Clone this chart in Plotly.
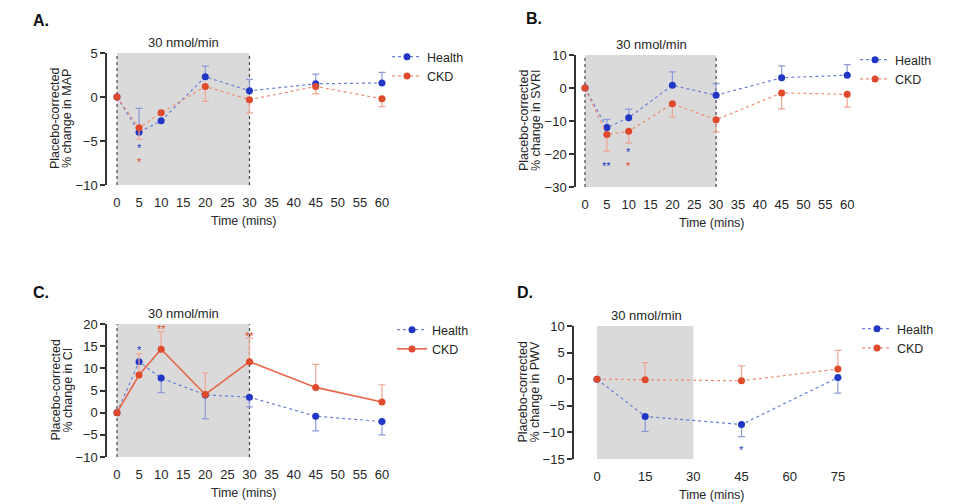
import plotly.graph_objects as go

# ---------------- data ----------------
time_abc = [0, 5, 10, 20, 30, 45, 60]
time_d = [0, 15, 45, 75]

map_health = [0, -4.0, -2.7, 2.3, 0.7, 1.5, 1.6]
map_health_err = [0, 2.7, 0, 1.2, 1.3, 1.1, 1.2]
map_ckd = [0, -3.5, -1.8, 1.2, -0.3, 1.2, -0.2]
map_ckd_err = [0, 1.3, 0, 1.7, 1.5, 0.85, 0.9]

svri_health = [0, -12.0, -9.0, 0.8, -2.2, 3.1, 3.9]
svri_health_err = [0, 2.5, 2.6, 4.1, 3.5, 3.6, 3.2]
svri_ckd = [0, -14.1, -13.1, -4.8, -9.6, -1.5, -1.9]
svri_ckd_err = [0, 5.0, 3.6, 4.0, 3.8, 4.8, 3.9]

ci_health = [0, 11.5, 7.8, 4.0, 3.5, -0.8, -2.0]
ci_health_err = [0, 0, 3.3, 5.4, 2.2, 3.3, 3.0]
ci_ckd = [0, 8.5, 14.3, 4.1, 11.5, 5.7, 2.4]
ci_ckd_err = [0, 4.8, 4.0, 4.9, 5.3, 5.2, 3.9]

pwv_health = [0, -7.0, -8.5, 0.3]
pwv_health_err = [0, 2.8, 2.3, 2.9]
pwv_ckd = [0, -0.1, -0.3, 1.9]
pwv_ckd_err = [0, 3.2, 2.8, 3.5]

ticks_abc = [0, 5, 10, 15, 20, 25, 30, 35, 40, 45, 50, 55, 60]
ticks_d = [0, 15, 30, 45, 60, 75]
yticks_a = [-10, -5, 0, 5]
yticks_b = [-30, -20, -10, 0, 10]
yticks_c = [-10, -5, 0, 5, 10, 15, 20]
yticks_d = [-15, -10, -5, 0, 5, 10]

# asterisks: (x, y, text, group)
stars_a = [(5, -5.5, "*", "Health"), (5, -7.0, "*", "CKD")]
stars_b = [(5, -22.6, "**", "Health"), (10, -18.6, "*", "Health"), (10, -22.6, "*", "CKD")]
stars_c = [(5, 14.9, "*", "Health"), (10, 19.5, "**", "CKD"), (30, 17.9, "**", "CKD")]
stars_d = [(45, -12.8, "*", "Health")]

W, H = 960, 504
OFF = 8  # page offset of the plot div
FONT = "Liberation Sans, Arial, sans-serif"
TXT = "#262626"
BLUE = "#2136c4"
BLUE_L = "#6b7fd6"
BLUE_E = "#8d9ad6"
RED = "#e04a2c"
RED_L = "#ee8c74"
RED_E = "#efa593"

def px(x):
    return (x - OFF) / W

def py(y):
    return 1 - (y - OFF) / H

panels = [
    dict(letter="A.", metric="MAP", t=time_abc, xt=ticks_abc, yt=yticks_a, yr=[-10, 5],
         xr=[-2.26, 62.5], xpix=(107, 393), ypix=(53, 185),
         h=map_health, he=map_health_err, hdir="up",
         c=map_ckd, ce=map_ckd_err, cdir="down", ckd_solid=False, vlines=True,
         stars=stars_a, letter_xy=(31, 20), dose_xy=(183, 43), leg_xy=(387, 42)),
    dict(letter="B.", metric="SVRI", t=time_abc, xt=ticks_abc, yt=yticks_b, yr=[-30, 10],
         xr=[-2.06, 62.7], xpix=(576, 859), ypix=(55, 187),
         h=svri_health, he=svri_health_err, hdir="up",
         c=svri_ckd, ce=svri_ckd_err, cdir="down", ckd_solid=False, vlines=True,
         stars=stars_b, letter_xy=(524, 18), dose_xy=(651, 45), leg_xy=(855, 45)),
    dict(letter="C.", metric="CI", t=time_abc, xt=ticks_abc, yt=yticks_c, yr=[-10, 20],
         xr=[-2.26, 62.5], xpix=(107, 393), ypix=(324, 457),
         h=ci_health, he=ci_health_err, hdir="down",
         c=ci_ckd, ce=ci_ckd_err, cdir="up", ckd_solid=True, vlines=True,
         stars=stars_c, letter_xy=(31, 292), dose_xy=(183, 313), leg_xy=(392, 315)),
    dict(letter="D.", metric="PWV", t=time_d, xt=ticks_d, yt=yticks_d, yr=[-15, 10],
         xr=[-7.16, 82.2], xpix=(574, 861), ypix=(326, 459),
         h=pwv_health, he=pwv_health_err, hdir="down",
         c=pwv_ckd, ce=pwv_ckd_err, cdir="up", ckd_solid=False, vlines=False,
         stars=stars_d, letter_xy=(515, 292), dose_xy=(646, 315), leg_xy=(857, 314)),
]

fig = go.Figure()
layout = dict(width=W, height=H,
              margin=dict(l=0, r=0, t=0, b=0, pad=0, autoexpand=False),
              paper_bgcolor="white", plot_bgcolor="rgba(0,0,0,0)",
              font=dict(family=FONT, size=12.5, color=TXT),
              shapes=[], annotations=[], showlegend=True)

for i, p in enumerate(panels, start=1):
    xs = "" if i == 1 else str(i)
    xname, yname = "x" + xs, "y" + xs
    zi = i + 4
    x0d, x1d = px(p["xpix"][0]), px(p["xpix"][1])
    y0d, y1d = py(p["ypix"][1]), py(p["ypix"][0])
    ymin, ymax = p["yr"]
    zero_pos = y0d + (0 - ymin) / (ymax - ymin) * (y1d - y0d)

    layout["xaxis" + xs] = dict(domain=[x0d, x1d], range=p["xr"], anchor=yname,
                                tickvals=p["xt"], showline=False, showgrid=False,
                                zeroline=False, ticks="outside", ticklen=5,
                                tickcolor="rgba(0,0,0,0)", tickfont=dict(size=13),
                                automargin=False)
    layout["yaxis" + xs] = dict(domain=[y0d, y1d], range=p["yr"], anchor=xname,
                                tickvals=p["yt"], showline=True, linecolor="#333333",
                                linewidth=1.5, ticks="outside", ticklen=5, tickwidth=1.5,
                                tickcolor="#333333", showgrid=False, zeroline=False,
                                tickfont=dict(size=13), automargin=False)
    layout["xaxis" + str(zi)] = dict(overlaying=xname, anchor="free", position=zero_pos,
                                     range=p["xr"], tickvals=p["xt"], showticklabels=False,
                                     showline=True, linecolor="#333333", linewidth=1.5,
                                     ticks="outside", ticklen=5, tickwidth=1.5,
                                     tickcolor="#333333", showgrid=False, zeroline=False,
                                     automargin=False)

    # shaded infusion period
    layout["shapes"].append(dict(type="rect", xref=xname, yref=yname + " domain",
                                 x0=0, x1=30, y0=0, y1=1, fillcolor="#dadada",
                                 line=dict(width=0), layer="below"))
    if p["vlines"]:
        for xv in (0, 30):
            layout["shapes"].append(dict(type="line", xref=xname, yref=yname + " domain",
                                         x0=xv, x1=xv, y0=0, y1=1, layer="below",
                                         line=dict(color="#444444", width=1.2, dash="dot")))

    leg = "legend" if i == 1 else "legend" + str(i)
    zeros = [0] * len(p["t"])

    def err(vals, direction, color):
        return dict(type="data", symmetric=False,
                    array=vals if direction == "up" else zeros,
                    arrayminus=vals if direction == "down" else zeros,
                    color=color, thickness=1.2, width=3.5)

    fig.add_trace(go.Scatter(
        x=p["t"], y=p["h"], name="Health", mode="lines+markers", xaxis=xname, yaxis=yname,
        legend=leg, line=dict(color=BLUE_L, width=1.2, dash="dot"),
        marker=dict(color=BLUE, size=7), error_y=err(p["he"], p["hdir"], BLUE_E)))
    fig.add_trace(go.Scatter(
        x=p["t"], y=p["c"], name="CKD", mode="lines+markers", xaxis=xname, yaxis=yname,
        legend=leg,
        line=dict(color=("#e8674a" if p["ckd_solid"] else RED_L),
                  width=(1.6 if p["ckd_solid"] else 1.2),
                  dash=("solid" if p["ckd_solid"] else "dot")),
        marker=dict(color=RED, size=7), error_y=err(p["ce"], p["cdir"], RED_E)))

    layout[leg] = dict(x=px(p["leg_xy"][0]), y=py(p["leg_xy"][1]), xanchor="left",
                       yanchor="top", bgcolor="rgba(0,0,0,0)", borderwidth=0,
                       font=dict(size=12.5, color=TXT), itemwidth=30, tracegroupgap=0)

    # stars
    for sx, sy, st, grp in p["stars"]:
        layout["annotations"].append(dict(x=sx, y=sy, xref=xname, yref=yname, text=st,
                                          showarrow=False, yshift=-3, borderpad=0,
                                          xanchor="center", yanchor="middle",
                                          font=dict(size=11, color=BLUE if grp == "Health" else RED)))

    # titles
    cy = (p["ypix"][0] + p["ypix"][1]) / 2
    ax = p["xpix"][0]
    common = dict(xref="paper", yref="paper", showarrow=False,
                  xanchor="center", yanchor="middle")
    layout["annotations"].append(dict(x=px(ax - 52), y=py(cy), text="Placebo-corrected",
                                      textangle=-90, font=dict(size=12.5), **common))
    layout["annotations"].append(dict(x=px(ax - 40), y=py(cy),
                                      text="% change in " + p["metric"], textangle=-90,
                                      font=dict(size=12.5), **common))
    layout["annotations"].append(dict(x=(x0d + x1d) / 2 - 6 / W, y=py(p["ypix"][1] + 36),
                                      text="Time (mins)", font=dict(size=12.5), **common))
    layout["annotations"].append(dict(x=px(p["dose_xy"][0]), y=py(p["dose_xy"][1]),
                                      text="30 nmol/min", font=dict(size=13), **common))
    layout["annotations"].append(dict(x=px(p["letter_xy"][0]), y=py(p["letter_xy"][1]),
                                      xref="paper", yref="paper", xanchor="left",
                                      yanchor="middle", showarrow=False,
                                      text="<b>" + p["letter"] + "</b>",
                                      font=dict(size=16, color="#111111")))

fig.update_layout(**layout)
fig.write_html("out.html")
